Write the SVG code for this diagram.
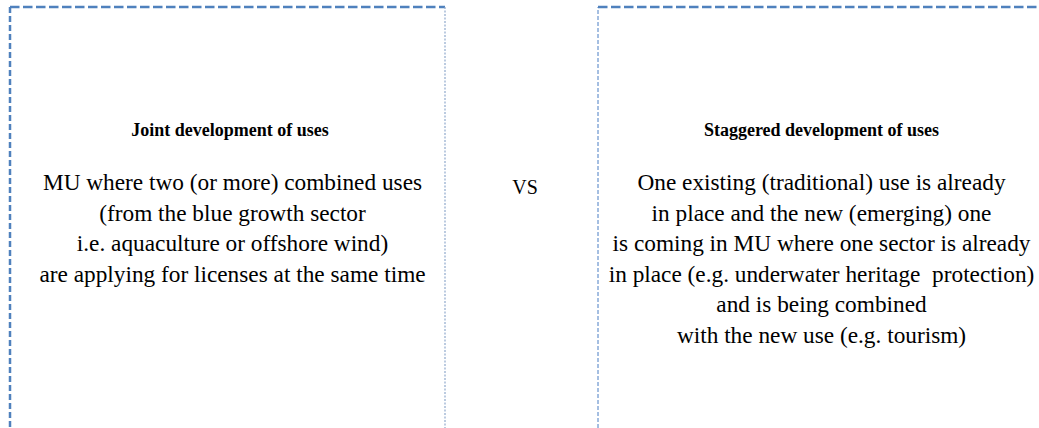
<svg xmlns="http://www.w3.org/2000/svg" width="1039" height="428" viewBox="0 0 1039 428">
<style>
.t{font-family:"Liberation Serif","Times New Roman",serif;font-size:23.3px;fill:#000;text-anchor:middle}
.b{font-weight:bold;font-size:18px}
.vs{font-size:20px}
.top{stroke:#4F81BD;stroke-width:2.5;stroke-dasharray:9.5 3.5;fill:none}
.side{stroke:#4F81BD;stroke-width:2.5;stroke-dasharray:6 3;fill:none}
.thin{stroke:#8FA9CC;stroke-width:1.2;stroke-dasharray:2 1.5;fill:none}
.thin2{stroke:#4A7EC4;stroke-width:1;stroke-dasharray:4 2;fill:none}
</style>
<rect width="1039" height="428" fill="#fff"/>
<g id="joint">
<path class="top" d="M10,7 H445"/>
<path class="side" d="M10,7 V440"/>
<path class="thin" d="M445,7 V440"/>
<text class="t b" x="230" y="136">Joint development of uses</text>
<text class="t" x="232.5" y="190">MU where two (or more) combined uses</text>
<text class="t" x="232.5" y="221">(from the blue growth sector</text>
<text class="t" x="232.5" y="251">i.e. aquaculture or offshore wind)</text>
<text class="t" x="232.5" y="282">are applying for licenses at the same time</text>
</g>
<g id="vs">
<text class="t vs" x="525" y="194">VS</text>
</g>
<g id="staggered">
<path class="thin2" d="M598,440 V7"/>
<path class="top" d="M598,7 H1045"/>
<text class="t b" x="821.5" y="136">Staggered development of uses</text>
<text class="t" x="821.5" y="190">One existing (traditional) use is already</text>
<text class="t" x="821.5" y="221">in place and the new (emerging) one</text>
<text class="t" x="821.5" y="251">is coming in MU where one sector is already</text>
<text class="t" x="821.5" y="282" xml:space="preserve">in place (e.g. underwater heritage  protection)</text>
<text class="t" x="821.5" y="312">and is being combined</text>
<text class="t" x="821.5" y="343">with the new use (e.g. tourism)</text>
</g>
<g id="connectors"/>
</svg>
